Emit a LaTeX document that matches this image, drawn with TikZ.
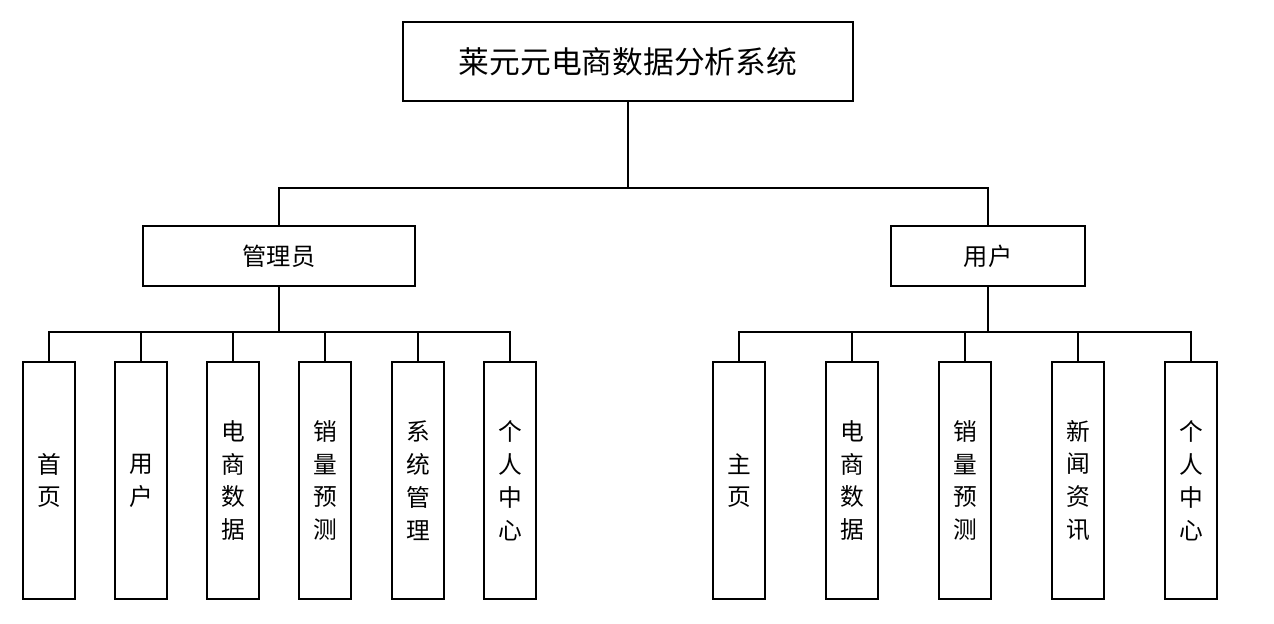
\documentclass[tikz,border=0pt]{standalone}
\usepackage{fontspec}
\setmainfont{Noto Sans CJK SC}
\usetikzlibrary{positioning}
\tikzset{
	box/.style={draw,line width=1.1pt,fill=white,inner sep=0pt},
	leaf/.style={box,minimum width=1.03cm,minimum height=4.74cm,align=center,font=\fontsize{13.5}{18.7}\selectfont},
	link/.style={line width=1.1pt}
}
\begin{document}
\begin{tikzpicture}[line join=miter,x=0.02cm,y=-0.02cm]
	\useasboundingbox (0,0) rectangle (1274,624);
	% goc
	\node[box,minimum width=9cm,minimum height=1.58cm,font=\fontsize{17.5}{20}\selectfont] (root) at (628,61.5) {莱元元电商数据分析系统};
	% hai nhanh
	\node[box,minimum width=5.44cm,minimum height=1.2cm,font=\fontsize{13.8}{16}\selectfont] (admin) at (279,256) {管理员};
	\node[box,minimum width=3.88cm,minimum height=1.2cm,font=\fontsize{13.8}{16}\selectfont] (user) at (988,256) {用户};
	% la ben trai
	\foreach \x/\t [count=\i] in {49/首\\页,141/用\\户,233/电\\商\\数\\据,325/销\\量\\预\\测,418/系\\统\\管\\理,510/个\\人\\中\\心}{
		\node[leaf] (a\i) at (\x,480.5) {\t};
	}
	% la ben phai
	\foreach \x/\t [count=\i] in {739/主\\页,852/电\\商\\数\\据,965/销\\量\\预\\测,1078/新\\闻\\资\\讯,1191/个\\人\\中\\心}{
		\node[leaf] (u\i) at (\x,480.5) {\t};
	}
	% duong noi
	\draw[link] (root.south) -- ++(0,86) coordinate (rb);
	\draw[link] (admin.north) |- (rb) -| (user.north);
	\draw[link] (admin.south) -- ++(0,45) coordinate (ab);
	\foreach \i in {1,...,6}{
		\draw[link] (ab) -| (a\i.north);
	}
	\draw[link] (user.south) -- ++(0,45) coordinate (ub);
	\foreach \i in {1,...,5}{
		\draw[link] (ub) -| (u\i.north);
	}
\end{tikzpicture}
\end{document}
